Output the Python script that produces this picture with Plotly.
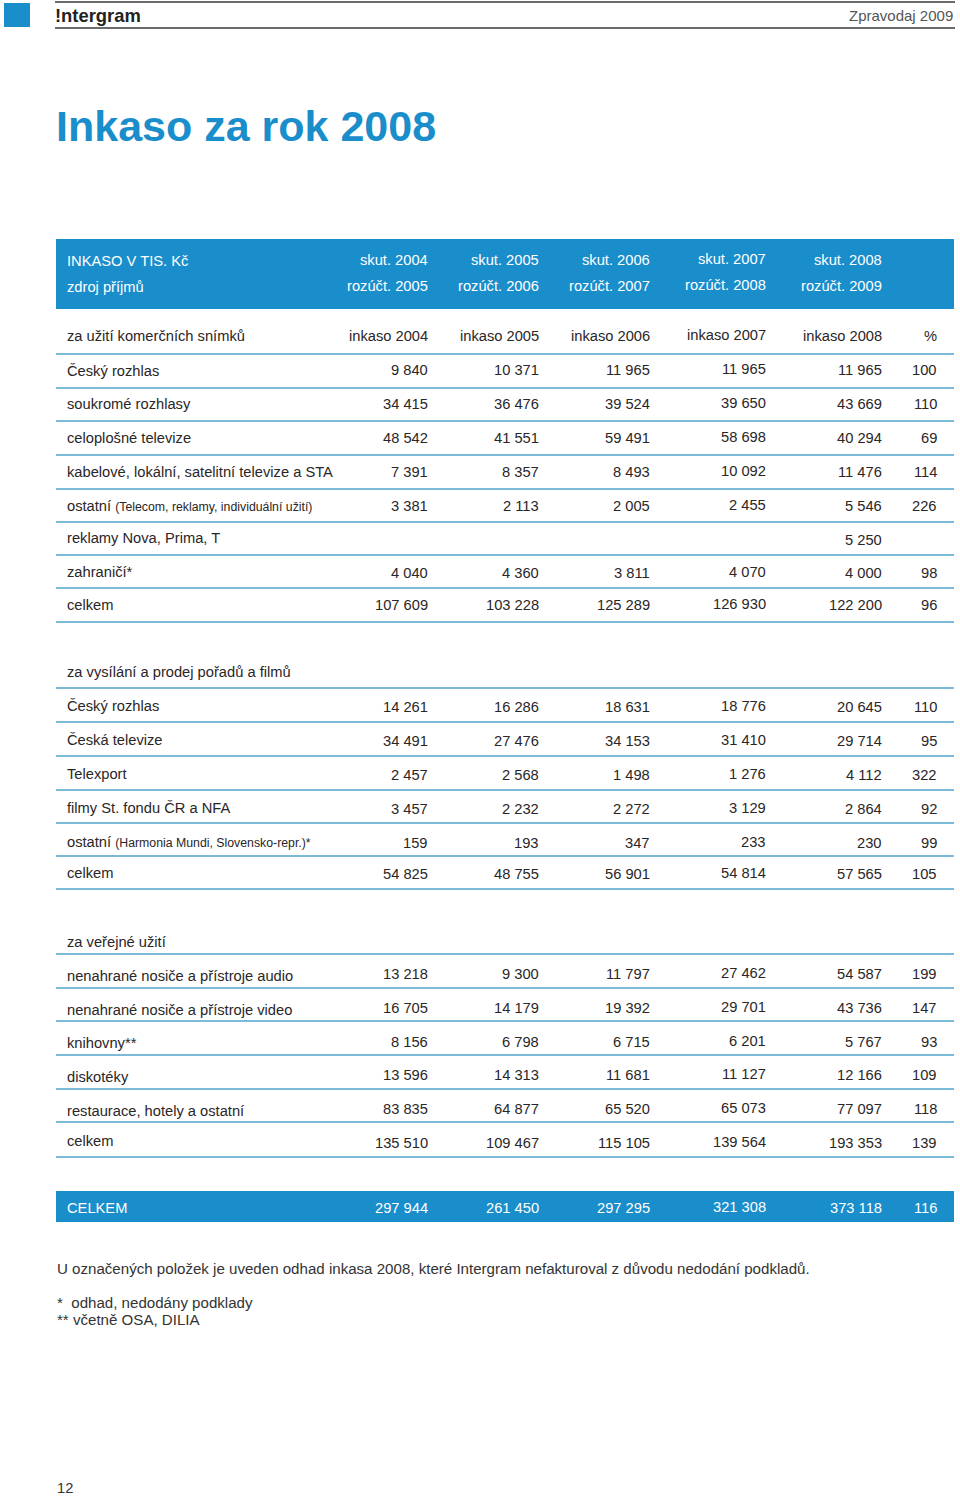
import plotly.graph_objects as go

# ---------------- data ----------------
header_top = ["skut. 2004", "skut. 2005", "skut. 2006", "skut. 2007", "skut. 2008"]
header_bottom = ["rozúčt. 2005", "rozúčt. 2006", "rozúčt. 2007", "rozúčt. 2008", "rozúčt. 2009"]
inkaso_headers = ["inkaso 2004", "inkaso 2005", "inkaso 2006", "inkaso 2007", "inkaso 2008", "%"]

s1_title = "za užití komerčních snímků"
s1_labels = ["Český rozhlas", "soukromé rozhlasy", "celoplošné televize",
             "kabelové, lokální, satelitní televize a STA",
             "ostatní|(Telecom, reklamy, individuální užití)",
             "reklamy Nova, Prima, T", "zahraničí*", "celkem"]
s1_2004 = [9840, 34415, 48542, 7391, 3381, None, 4040, 107609]
s1_2005 = [10371, 36476, 41551, 8357, 2113, None, 4360, 103228]
s1_2006 = [11965, 39524, 59491, 8493, 2005, None, 3811, 125289]
s1_2007 = [11965, 39650, 58698, 10092, 2455, None, 4070, 126930]
s1_2008 = [11965, 43669, 40294, 11476, 5546, 5250, 4000, 122200]
s1_pct = [100, 110, 69, 114, 226, None, 98, 96]

s2_title = "za vysílání a prodej pořadů a filmů"
s2_labels = ["Český rozhlas", "Česká televize", "Telexport", "filmy St. fondu ČR a NFA",
             "ostatní|(Harmonia Mundi, Slovensko-repr.)*", "celkem"]
s2_2004 = [14261, 34491, 2457, 3457, 159, 54825]
s2_2005 = [16286, 27476, 2568, 2232, 193, 48755]
s2_2006 = [18631, 34153, 1498, 2272, 347, 56901]
s2_2007 = [18776, 31410, 1276, 3129, 233, 54814]
s2_2008 = [20645, 29714, 4112, 2864, 230, 57565]
s2_pct = [110, 95, 322, 92, 99, 105]

s3_title = "za veřejné užití"
s3_labels = ["nenahrané nosiče a přístroje audio", "nenahrané nosiče a přístroje video",
             "knihovny**", "diskotéky", "restaurace, hotely a ostatní", "celkem"]
s3_2004 = [13218, 16705, 8156, 13596, 83835, 135510]
s3_2005 = [9300, 14179, 6798, 14313, 64877, 109467]
s3_2006 = [11797, 19392, 6715, 11681, 65520, 115105]
s3_2007 = [27462, 29701, 6201, 11127, 65073, 139564]
s3_2008 = [54587, 43736, 5767, 12166, 77097, 193353]
s3_pct = [199, 147, 93, 109, 118, 139]

total_label = "CELKEM"
total_values = [297944, 261450, 297295, 321308, 373118]
total_pct = 116

page_title = "Inkaso za rok 2008"
brand = "!ntergram"
publication = "Zpravodaj 2009"
footnote_main = "U označených položek je uveden odhad inkasa 2008, které Intergram nefakturoval z důvodu nedodání podkladů."
footnotes = ["*  odhad, nedodány podklady", "** včetně OSA, DILIA"]
page_number = "12"

# ---------------- styling / layout ----------------
W, H = 960, 1496
FONT = "Liberation Sans, Arial, Helvetica, sans-serif"
TXT = "#2a2627"
BLUE = "#1a8dcb"
LINE = "#4fa3cc"
FS = 14.7
COL_RIGHT = [428, 539, 650, 766, 882, 937]
COL_DY = [0, 0, 0, -1.5, 0, 0]
LX = 67
PAD = 2  # compensate annotation inner padding

anns = []
shapes = []


def fmt(v):
    if v is None:
        return ""
    return f"{v:,}".replace(",", " ")


def text(x, y, s, size=FS, color=TXT, anchor="left", bold=False, family=FONT):
    if s == "":
        return
    if bold:
        s = f"<b>{s}</b>"
    anns.append(dict(x=x, y=y, xref="x", yref="y", text=s, showarrow=False,
                     xanchor=anchor, yanchor="middle",
                     xshift=-PAD if anchor == "left" else PAD,
                     font=dict(size=size, color=color, family=family)))


def hline(y, x0=56, x1=954, color=LINE, width=1.6):
    shapes.append(dict(type="line", xref="x", yref="y", x0=x0, x1=x1, y0=y, y1=y,
                       line=dict(color=color, width=width)))


def rect(x0, y0, x1, y1, color):
    shapes.append(dict(type="rect", xref="x", yref="y", x0=x0, x1=x1, y0=y0, y1=y1,
                       line=dict(width=0), fillcolor=color, layer="below"))


def label(y, s):
    if "|" in s:
        a, b = s.split("|")
        s = f"{a} <span style='font-size:12.3px'>{b}</span>"
    text(LX, y, s)


# page header
rect(4, 3, 30, 27, BLUE)
hline(2, 55, 955, "#3a3a3a", 1.4)
hline(28, 55, 955, "#3a3a3a", 1.4)
text(55, 15, brand, size=18.4, color="#222", bold=True)
text(953, 15, publication, size=15, color="#555", anchor="right")

text(56, 126, page_title, size=43, color=BLUE, bold=True)

# blue header band
rect(56, 239, 954, 309, BLUE)
text(LX, 261, "INKASO V TIS. Kč", color="white")
text(LX, 287, "zdroj příjmů", color="white")
for i in range(5):
    text(COL_RIGHT[i], 260 + COL_DY[i], header_top[i], color="white", anchor="right")
    text(COL_RIGHT[i], 286 + COL_DY[i], header_bottom[i], color="white", anchor="right")


def section(title, title_y, labels, label_y, num_y, cols, lines):
    text(LX, title_y, title)
    for y in lines:
        hline(y)
    for r, lab in enumerate(labels):
        label(label_y[r], lab)
        for c, col in enumerate(cols):
            text(COL_RIGHT[c], num_y[r] + COL_DY[c], fmt(col[r]), anchor="right")


# section 1
for i, h in enumerate(inkaso_headers):
    text(COL_RIGHT[i], 336 + COL_DY[i], h, anchor="right")
section(s1_title, 336, s1_labels,
        [371, 404, 438, 472, 506, 538, 572, 605],
        [370, 404, 438, 472, 506, 540, 573, 605],
        [s1_2004, s1_2005, s1_2006, s1_2007, s1_2008, s1_pct],
        [354, 388, 421, 455, 489, 522, 555, 588, 622])

# section 2
section(s2_title, 672, s2_labels,
        [706, 740, 774, 808, 842, 873],
        [707, 741, 775, 809, 843, 874],
        [s2_2004, s2_2005, s2_2006, s2_2007, s2_2008, s2_pct],
        [688, 722, 756, 790, 823, 856, 889])

# section 3
section(s3_title, 942, s3_labels,
        [976, 1010, 1043, 1077, 1111, 1141],
        [974, 1008, 1042, 1075, 1109, 1143],
        [s3_2004, s3_2005, s3_2006, s3_2007, s3_2008, s3_pct],
        [954, 988, 1021, 1055, 1089, 1122, 1157])

# grand total band
rect(56, 1191, 954, 1222, BLUE)
text(LX, 1208, total_label, color="white")
for i, v in enumerate(total_values):
    text(COL_RIGHT[i], 1208 + COL_DY[i], fmt(v), color="white", anchor="right")
text(937, 1208, str(total_pct), color="white", anchor="right")

# footnotes
text(57, 1268, footnote_main, size=15.1, color="#333")
text(57, 1302, footnotes[0], size=15.1, color="#333")
text(57, 1319, footnotes[1], size=15.1, color="#333")
text(57, 1488, page_number, color="#333")

fig = go.Figure()
fig.update_layout(
    width=W, height=H,
    margin=dict(l=0, r=0, t=0, b=0),
    paper_bgcolor="white", plot_bgcolor="white",
    xaxis=dict(range=[0, W], visible=False, fixedrange=True),
    yaxis=dict(range=[H, 0], visible=False, fixedrange=True),
    annotations=anns, shapes=shapes, showlegend=False,
)
fig.write_html("out.html", config={"displayModeBar": False},
               post_script="document.body.style.margin='0';document.body.style.overflow='hidden';")
